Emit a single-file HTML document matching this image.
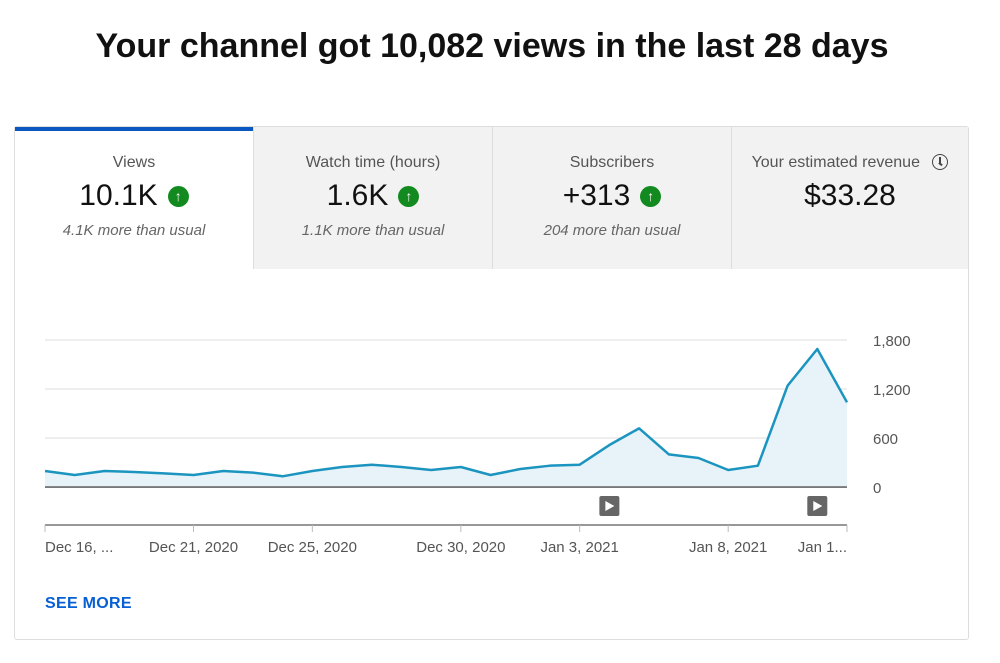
<!DOCTYPE html>
<html><head><meta charset="utf-8"><style>
body{margin:0;width:1000px;height:663px;background:#fff;font-family:"Liberation Sans",Arial,sans-serif;position:relative;overflow:hidden}
.title{position:absolute;top:27px;left:0;width:984px;text-align:center;font-size:34px;font-weight:bold;color:#111;letter-spacing:0px}
.card{position:absolute;left:14px;top:126px;width:955px;height:514px;border:1px solid #ddd;border-radius:3px;box-sizing:border-box}
.tab{position:absolute;top:0;height:142px;background:#f2f2f2;border-left:1px solid #ddd;box-sizing:border-box;text-align:center}
.tab .lbl{margin-top:27px;font-size:16px;color:#555}
.tab .val{margin-top:7px;font-size:30px;color:#111;display:flex;justify-content:center;align-items:center;gap:10px}
.up{width:21px;height:21px;border-radius:50%;background:#138a1f;color:#fff;font-size:14px;font-weight:bold;line-height:21px;text-align:center}
.tab .sub{margin-top:9px;font-size:15px;font-style:italic;color:#666}
.see{position:absolute;left:45px;top:595px;font-size:16px;color:#065fd4;font-weight:bold;letter-spacing:0.3px}
</style></head><body>
<div class="title">Your channel got 10,082 views in the last 28 days</div>
<div class="card">
 <div class="tab" style="left:0;width:238px;background:#fff;border-left:none;border-top:4px solid #0b57c2;height:142px">
  <div class="lbl" style="margin-top:23px">Views</div><div class="val">10.1K <span class="up">↑</span></div><div class="sub">4.1K more than usual</div></div>
 <div class="tab" style="left:238px;width:239px">
  <div class="lbl">Watch time (hours)</div><div class="val">1.6K <span class="up">↑</span></div><div class="sub">1.1K more than usual</div></div>
 <div class="tab" style="left:477px;width:239px">
  <div class="lbl">Subscribers</div><div class="val">+313 <span class="up">↑</span></div><div class="sub">204 more than usual</div></div>
 <div class="tab" style="left:716px;width:237px">
  <div class="lbl">Your estimated revenue <span style="display:inline-block;width:14px;height:14px;border:1.5px solid #444;border-radius:50%;vertical-align:-3px;margin-left:8px;position:relative"><span style="position:absolute;left:6px;top:2px;width:1.5px;height:6px;background:#444"></span><span style="position:absolute;left:6px;top:7px;width:4px;height:1.5px;background:#444;transform:rotate(35deg);transform-origin:left"></span></span></div><div class="val">$33.28</div></div>
</div>
<svg id="chart" width="1000" height="663" style="position:absolute;left:0;top:0"></svg>
<div class="see">SEE MORE</div>
<script>
const views=[196,147,196,184,167,147,196,176,131,196,245,273,245,208,245,147,220,261,273,514,718,400,355,208,261,1241,1690,1037];
const yTicks=[0,600,1200,1800];
const yTickLabels=["0","600","1,200","1,800"];
const xTickIdx=[0,5,9,14,18,23,27];
const xTickLabels=["Dec 16, ...","Dec 21, 2020","Dec 25, 2020","Dec 30, 2020","Jan 3, 2021","Jan 8, 2021","Jan 1..."];
const videoIdx=[19,26];
const NS="http://www.w3.org/2000/svg",svg=document.getElementById('chart');
const X0=45,X1=847,Y0=487,Y1=340;
const x=i=>X0+i*(X1-X0)/(views.length-1);
const y=v=>Y0-v*(Y0-Y1)/1800;
function mk(t,a){const e=document.createElementNS(NS,t);for(const k in a)e.setAttribute(k,a[k]);svg.appendChild(e);return e;}
yTicks.forEach((v,i)=>{
 const g=mk('line',{x1:X0,x2:X1,y1:y(v),y2:y(v),stroke:v===0?'#666':'#ddd','stroke-width':v===0?1.5:1});
 
 
 const t=mk('text',{x:873,y:y(v)+6,'font-size':15,fill:'#555','font-family':'Liberation Sans, sans-serif'});t.textContent=yTickLabels[i];
 
 
});
let d='M'+x(0)+','+Y0;views.forEach((v,i)=>d+=' L'+x(i)+','+y(v));d+=' L'+x(views.length-1)+','+Y0+'Z';
const area=mk('path',{d:d,fill:'#e8f3f9'});


const line=mk('polyline',{points:views.map((v,i)=>x(i)+','+y(v)).join(' '),fill:'none',stroke:'#1b95bf','stroke-width':2.5,'stroke-linejoin':'round'});


const bl=mk('line',{x1:X0,x2:X1,y1:Y0,y2:Y0,stroke:'#666','stroke-width':1.5});


const ax=mk('line',{x1:X0,x2:X1,y1:525,y2:525,stroke:'#777','stroke-width':1.5});


videoIdx.forEach(i=>{
 const r=mk('rect',{x:x(i)-10,y:496,width:20,height:20,rx:2,fill:'#666'});
 
 
 mk('polygon',{points:`${x(i)-4},501 ${x(i)-4},511 ${x(i)+5},506`,fill:'#fff'});
});
xTickIdx.forEach((i,k)=>{
 mk('line',{x1:x(i),x2:x(i),y1:525,y2:532,stroke:'#bbb'});
 const anchor=k===0?'start':(k===xTickIdx.length-1?'end':'middle');
 const t=mk('text',{x:x(i),y:552,'font-size':15,fill:'#555','text-anchor':anchor,'font-family':'Liberation Sans, sans-serif'});t.textContent=xTickLabels[k];
 
 
});
</script>
</body></html>
